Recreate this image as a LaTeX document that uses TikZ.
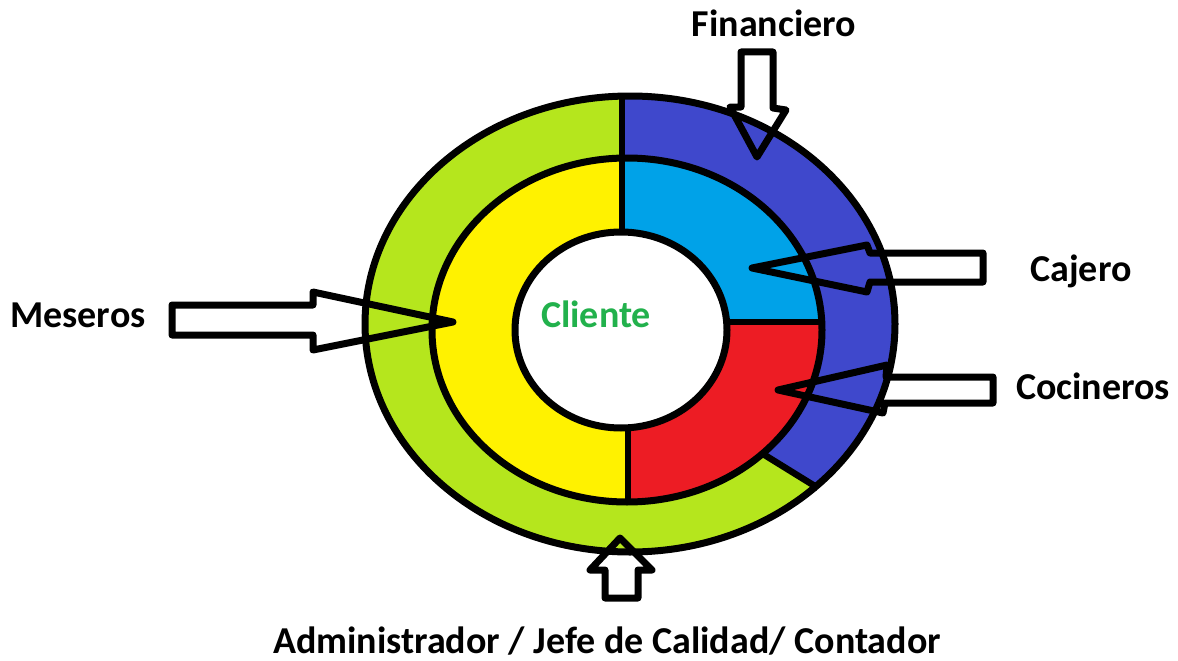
\documentclass[tikz,border=0pt]{standalone}
\usepackage{fontspec}
\setmainfont{Carlito}
\definecolor{RingGreen}{HTML}{B5E61D}
\definecolor{RingBlue}{HTML}{3F48CC}
\definecolor{InnerCyan}{HTML}{00A2E8}
\definecolor{InnerRed}{HTML}{ED1C24}
\definecolor{InnerYellow}{HTML}{FFF200}
\definecolor{ClientGreen}{HTML}{22B14C}
\usepackage{tikz}

\begin{document}
\begin{tikzpicture}[x=1pt,y=-1pt,
        ringline/.style={line width=7pt},
        blockarrow/.style={line width=7pt,line join=round},
        rolelabel/.style={font=\fontsize{38}{42}\selectfont\bfseries,
                     inner sep=0pt,anchor=base}]
        \useasboundingbox (0,0) rectangle (1178,661);
        \coordinate (outerc) at (630,324);
        \coordinate (midc) at (627,330);
        \coordinate (innerc) at (621,330);
        % outer ring
        \fill[RingGreen] (outerc) ellipse [x radius=265,y radius=228];
        \begin{scope}
          \clip (622,330) -- (622,0) -- (1000,0) -- (1000,580)
                -- (984,584) -- (763,454) -- cycle;
          \fill[RingBlue] (outerc) ellipse [x radius=265,y radius=228];
        \end{scope}
        % middle ring
        \fill[InnerYellow] (midc) ellipse [x radius=195,y radius=172];
        \begin{scope}
          \clip (622,0) rectangle (1000,322);
          \fill[InnerCyan] (midc) ellipse [x radius=195,y radius=172];
        \end{scope}
        \begin{scope}
          \clip (628,322) rectangle (1000,661);
          \fill[InnerRed] (midc) ellipse [x radius=195,y radius=172];
        \end{scope}
        \fill[white] (innerc) ellipse [x radius=106,y radius=98];
        % outlines
        \draw[ringline] (outerc) ellipse [x radius=265,y radius=228];
        \draw[ringline] (midc) ellipse [x radius=195,y radius=172];
        \draw[ringline] (innerc) ellipse [x radius=106,y radius=98];
        \coordinate (topout) at (622,96);
        \coordinate (topin) at (622,232);
        \coordinate (rightin) at (726,322);
        \coordinate (rightmid) at (822,322);
        \coordinate (botin) at (628,428);
        \coordinate (botmid) at (628,502);
        \coordinate (bluemid) at (763,454);
        \coordinate (blueout) at (818,488);
        \foreach \a/\b in {topout/topin,rightin/rightmid,
                           botin/botmid,bluemid/blueout}{
          \draw[line width=6.5pt] (\a) -- (\b);
        }
        % arrows
        \draw[blockarrow] (741,52) -- (773,52) -- (773,108) -- (786,110)
              -- (757,157) -- (730,107) -- (741,107) -- cycle;
        \draw[blockarrow] (983,253) -- (870,253) -- (867,245) -- (752,268)
              -- (867,292) -- (870,282) -- (983,282) -- cycle;
        \draw[blockarrow] (993,377) -- (886,377) -- (887,365) -- (778,390)
              -- (883,413) -- (885,403) -- (993,403) -- cycle;
        \draw[blockarrow] (172,305) -- (313,305) -- (313,292) -- (453,322)
              -- (313,350) -- (313,335) -- (172,335) -- cycle;
        \draw[blockarrow] (605,598) -- (605,570) -- (590,570) -- (620,538)
              -- (652,570) -- (638,570) -- (638,598) -- cycle;
        % labels
        \node[rolelabel] (fin) at (774,37) {Financiero};
        \node[rolelabel] (caj) at (1081,281) {Cajero};
        \node[rolelabel] (coc) at (1093,399) {Cocineros};
        \node[rolelabel] (mes) at (78,327) {Meseros};
        \node[rolelabel,text=ClientGreen] (cli) at (596,327) {Cliente};
        \node[rolelabel] (adm) at (607,653)
              {Administrador / Jefe de Calidad/ Contador};
      \end{tikzpicture}
\end{document}
